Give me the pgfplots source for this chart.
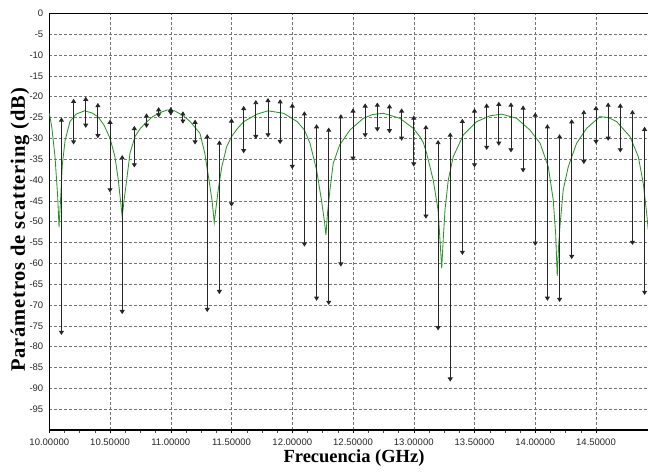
\documentclass[border=0pt]{standalone}
\usepackage{fontspec}
\setmainfont{Liberation Sans}
\newfontfamily\labfont{Liberation Serif}
\newfontfamily\ylabfont[LetterSpace=4]{Liberation Serif}
\usepackage{pgfplots}
\usepackage{pgfplotstable}
\pgfplotsset{compat=1.18}
\usetikzlibrary{arrows.meta}

\pgfplotstableread{
x top bot
10.1 -25 -77.2
10.2 -20.5 -31.5
10.3 -20 -27.5
10.4 -21.5 -30
10.5 -25.5 -43
10.6 -34 -72.2
10.7 -27 -37
10.8 -24 -27.5
10.9 -22.5 -25
11.0 -22.5 -24.5
11.1 -23.5 -26.5
11.2 -25.5 -31.5
11.3 -29 -71.7
11.4 -30.5 -67.4
11.5 -25.2 -46.4
11.6 -22.2 -33.6
11.7 -20.8 -30.2
11.8 -20.3 -29.8
11.9 -20.6 -31.4
12.0 -21.6 -37.4
12.1 -23.5 -56
12.2 -26.6 -69
12.3 -27.4 -70
12.4 -24.2 -60.8
12.5 -22.8 -35.4
12.6 -21.6 -29.8
12.7 -21.4 -28.4
12.8 -21.8 -28.8
12.9 -22.8 -30.6
13.0 -24.5 -36.8
13.1 -26.8 -49.3
13.2 -30.4 -76.1
13.3 -28.6 -88.4
13.4 -25.3 -58
13.5 -22.8 -37
13.6 -21.6 -32.8
13.7 -21.2 -31.8
13.8 -21.4 -33.4
13.9 -22.1 -38.2
14.0 -23.8 -55.8
14.1 -26.6 -69
14.2 -29 -69.3
14.3 -25.4 -59
14.4 -23.2 -36.2
14.5 -22.2 -31.4
14.6 -21.4 -30.6
14.7 -21.6 -33.4
14.8 -23.2 -55.6
14.9 -27.2 -67.6
}\arrowdata

\pgfplotstableread{
x y
10.00 -24
10.02 -27.2
10.047 -34.4
10.069 -44
10.08 -51.3
10.096 -43
10.107 -36.4
10.13 -30.5
10.17 -26
10.22 -24.2
10.29 -23.4
10.35 -23.9
10.40 -24.8
10.45 -26.8
10.50 -30
10.54 -34.4
10.568 -40
10.59 -46
10.60 -48.8
10.615 -45
10.637 -40
10.664 -33.6
10.705 -29.6
10.75 -27.6
10.79 -26.4
10.85 -24.8
10.90 -24
10.97 -23.2
11.03 -23.4
11.10 -24.5
11.16 -26
11.24 -28.8
11.28 -33.6
11.31 -39.2
11.34 -45
11.358 -50.2
11.375 -46
11.39 -42.4
11.42 -36.8
11.46 -32
11.50 -29.6
11.55 -27.6
11.60 -26
11.71 -24.2
11.80 -23.4
11.93 -24
12.04 -26
12.10 -28
12.146 -31.2
12.20 -37.6
12.24 -44.8
12.265 -50
12.277 -53.2
12.29 -48
12.31 -42.4
12.337 -36
12.39 -31.6
12.475 -28
12.585 -25.2
12.66 -24.3
12.75 -24
12.886 -25.2
12.996 -27.6
13.05 -29.6
13.078 -31
13.106 -33.6
13.16 -40
13.20 -47.2
13.215 -54
13.23 -61.2
13.243 -54
13.257 -47.2
13.284 -40
13.325 -34.4
13.408 -29.2
13.518 -26
13.627 -24.6
13.724 -24.2
13.847 -25.2
13.956 -28
14.04 -31.2
14.107 -36.8
14.148 -44.8
14.168 -53
14.181 -63
14.192 -56
14.203 -51.2
14.23 -42.4
14.272 -36.8
14.34 -31.2
14.423 -27.6
14.532 -24.8
14.60 -25
14.67 -26
14.78 -29.6
14.848 -34.4
14.889 -40.8
14.917 -48
14.93 -52
}\curvedata

\begin{document}
\begin{tikzpicture}
\begin{axis}[
  scale only axis,
  width=598.7pt, height=416.7pt,
  xmin=10, xmax=14.928, ymin=-100, ymax=0,
  axis x line=box, axis y line=left,
  axis line style={-, line width=1.2pt, black},
  xtick={10,10.5,...,14.5},
  minor x tick num=3,
  xtick pos=bottom, xtick align=outside,
  major tick length=3pt, minor tick length=2.5pt,
  xtick style={black, line width=0.5pt},
  minor x tick style={black!70, line width=0.4pt},
  ytick={-95,-90,...,0},
  ytick style={draw=none},
  grid=major,
  major grid style={black!55, line width=0.5pt, dash pattern=on 3pt off 2pt},
  /pgf/number format/assume math mode=true,
  xticklabel={\pgfmathprintnumber[fixed,fixed zerofill,precision=5]{\tick}},
  yticklabel={\pgfmathprintnumber[fixed,precision=0]{\tick}},
  ticklabel style={font=\fontsize{9.5}{10}\selectfont, text=black!85},
  xticklabel style={yshift=-2pt},
  yticklabel style={xshift=-1pt},
  xlabel={Frecuencia (GHz)},
  ylabel={Parámetros de scattering (dB)},
  xlabel style={font=\labfont\bfseries\fontsize{18.5}{20}\selectfont, at={(axis description cs:0.509,-0.067)}, anchor=center},
  ylabel style={font=\ylabfont\bfseries\fontsize{20.5}{22}\selectfont, at={(axis description cs:-0.049,0.48)}, anchor=center},
  clip=true,
]
\addplot[color={rgb,255:red,40;green,150;blue,40}, line width=0.85pt, no markers] table[x=x,y=y] {\curvedata};
\addplot[black!85, line width=0.9pt, no markers,
  quiver={u=0, v=\thisrow{top}-\thisrow{bot}},
  {Triangle[width=5pt,length=4.2pt]}-{Triangle[width=5pt,length=4.2pt]}]
  table[x=x,y=bot] {\arrowdata};
\end{axis}
\pgfresetboundingbox
\path[use as bounding box] (-49.3pt,-45pt) rectangle (598.7pt,430pt);
\end{tikzpicture}
\end{document}
